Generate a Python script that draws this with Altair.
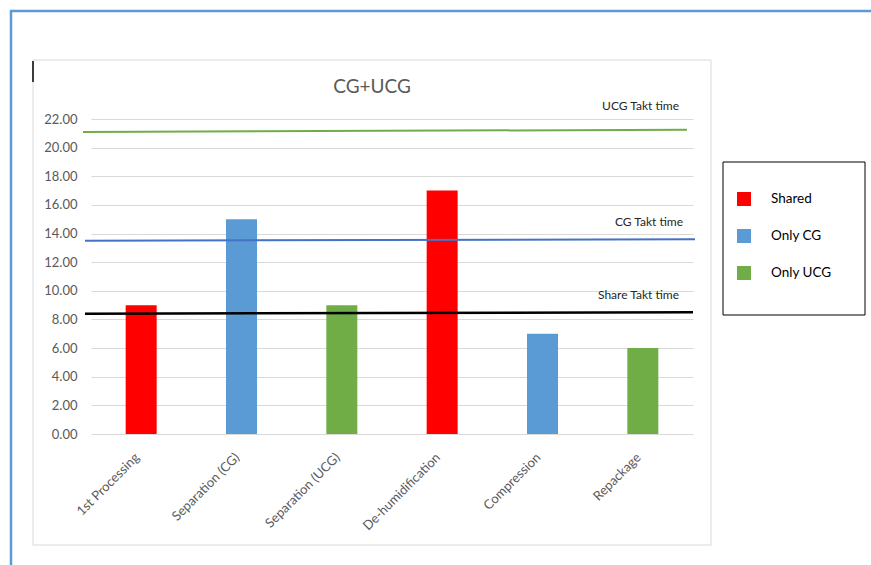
import altair as alt
import pandas as pd

# ---- data ----
categories = ["1st Processing", "Separation (CG)", "Separation (UCG)",
              "De-humidification", "Compression", "Repackage"]
values = [9, 15, 9, 17, 7, 6]
groups = ["Shared", "Only CG", "Only UCG", "Shared", "Only CG", "Only UCG"]

group_order = ["Shared", "Only CG", "Only UCG"]
group_colors = ["#FF0000", "#5B9BD5", "#70AD47"]

takt_names = ["UCG Takt time", "CG Takt time", "Share Takt time"]
takt_start = [21.1, 13.5, 8.4]
takt_end = [21.25, 13.6, 8.5]
takt_colors = ["#70AD47", "#4472C4", "#000000"]

y_ticks = [0, 2, 4, 6, 8, 10, 12, 14, 16, 18, 20, 22]

title_text = "CG+UCG"

FONT = "Lato"
PL, PT = 91, 119
W, H = 602, 315

bars_df = pd.DataFrame({"step": categories, "time": values, "group": groups})
takt_df = pd.DataFrame({"name": takt_names, "start": takt_start,
                        "end": takt_end, "color": takt_colors})
one = pd.DataFrame({"k": [0]})

yscale = alt.Scale(domain=[0, 22], nice=False, zero=True)
y_axis = alt.Axis(values=y_ticks, format=".2f", labelFont=FONT, title=None,
                  labelFontSize=13, labelColor="#595959",
                  domain=False, ticks=False, labelPadding=14,
                  labelOverlap=False, labelFlush=False,
                  gridColor="#D9D9D9", gridWidth=1)

bars = alt.Chart(bars_df).mark_bar(size=31).encode(
    x=alt.X("step:N", sort=categories, title=None,
            axis=alt.Axis(labelAngle=-45, labelAlign="right", labelBaseline="middle",
                          labelFont=FONT, labelFontSize=13,
                          labelColor="#595959", domain=False, ticks=False,
                          labelPadding=21, labelOffset=-4,
                          labelOverlap=False, labelLimit=300)),
    y=alt.Y("time:Q", scale=yscale, title=None, axis=y_axis),
    color=alt.Color("group:N",
                    scale=alt.Scale(domain=group_order, range=group_colors),
                    legend=alt.Legend(title=None, orient="none",
                                      legendX=646, legendY=73,
                                      symbolType="square", symbolSize=196,
                                      symbolStrokeWidth=0, labelOffset=20,
                                      rowPadding=23, padding=0,
                                      labelFont=FONT, labelFontSize=13.5,
                                      labelColor="#000000")),
)

# takt lines and their labels
x_ends = {"UCG Takt time": (-8, 596), "CG Takt time": (-6, 604),
          "Share Takt time": (-6, 602)}
label_dy = {"UCG Takt time": -24, "CG Takt time": -17, "Share Takt time": -17}
label_x = {"UCG Takt time": 588, "CG Takt time": 592, "Share Takt time": 588}
line_w = {"UCG Takt time": 2, "CG Takt time": 2, "Share Takt time": 2.5}

takt_layers = []
for name, col in zip(takt_names, takt_colors):
    base = alt.Chart(takt_df).transform_filter(alt.datum.name == name)
    x0, x1 = x_ends[name]
    takt_layers.append(base.mark_rule(color=col, strokeWidth=line_w[name]).encode(
        x=alt.value(x0), x2=alt.value(x1),
        y=alt.Y("start:Q", scale=yscale, title=None, axis=y_axis), y2="end:Q"))
    takt_layers.append(base.mark_text(align="right", baseline="middle",
                                      font=FONT, fontSize=12, color="#262626",
                                      dy=label_dy[name]).encode(
        x=alt.value(label_x[name]),
        y=alt.Y("end:Q", scale=yscale, title=None, axis=y_axis), text="name:N"))

# decorations
chart_box = alt.Chart(one).mark_rect(fill=None, stroke="#D9D9D9", strokeWidth=1).encode(
    x=alt.value(33 - PL), x2=alt.value(711 - PL),
    y=alt.value(60 - PT), y2=alt.value(545 - PT))
legend_box = alt.Chart(one).mark_rect(fill=None, stroke="#000000", strokeWidth=1).encode(
    x=alt.value(723 - PL), x2=alt.value(865 - PL),
    y=alt.value(162 - PT), y2=alt.value(315 - PT))
frame_top = alt.Chart(one).mark_rule(color="#5B9BD5", strokeWidth=2.5).encode(
    x=alt.value(10 - PL), x2=alt.value(871 - PL), y=alt.value(11 - PT))
frame_left = alt.Chart(one).mark_rule(color="#5B9BD5", strokeWidth=2.5).encode(
    x=alt.value(11 - PL), y=alt.value(10 - PT), y2=alt.value(565 - PT))
cursor = alt.Chart(one).mark_rule(color="#000000", strokeWidth=1.5).encode(
    x=alt.value(33 - PL), y=alt.value(61 - PT), y2=alt.value(82 - PT))
title = alt.Chart(pd.DataFrame({"t": [title_text]})).mark_text(
    font=FONT, fontSize=19, color="#595959", align="center", baseline="middle").encode(
    x=alt.value(372 - PL), y=alt.value(87 - PT), text="t:N")

chart = alt.layer(
    frame_top, frame_left, chart_box, cursor, legend_box, title,
    bars, *takt_layers
).properties(
    width=W, height=H,
    background="white",
    autosize=alt.AutoSizeParams(type="none"),
    padding={"left": PL, "top": PT, "right": 871 - PL - W, "bottom": 565 - PT - H},
).configure_view(stroke=None)

chart.save("out.html", embed_options={"renderer": "svg", "actions": False})
